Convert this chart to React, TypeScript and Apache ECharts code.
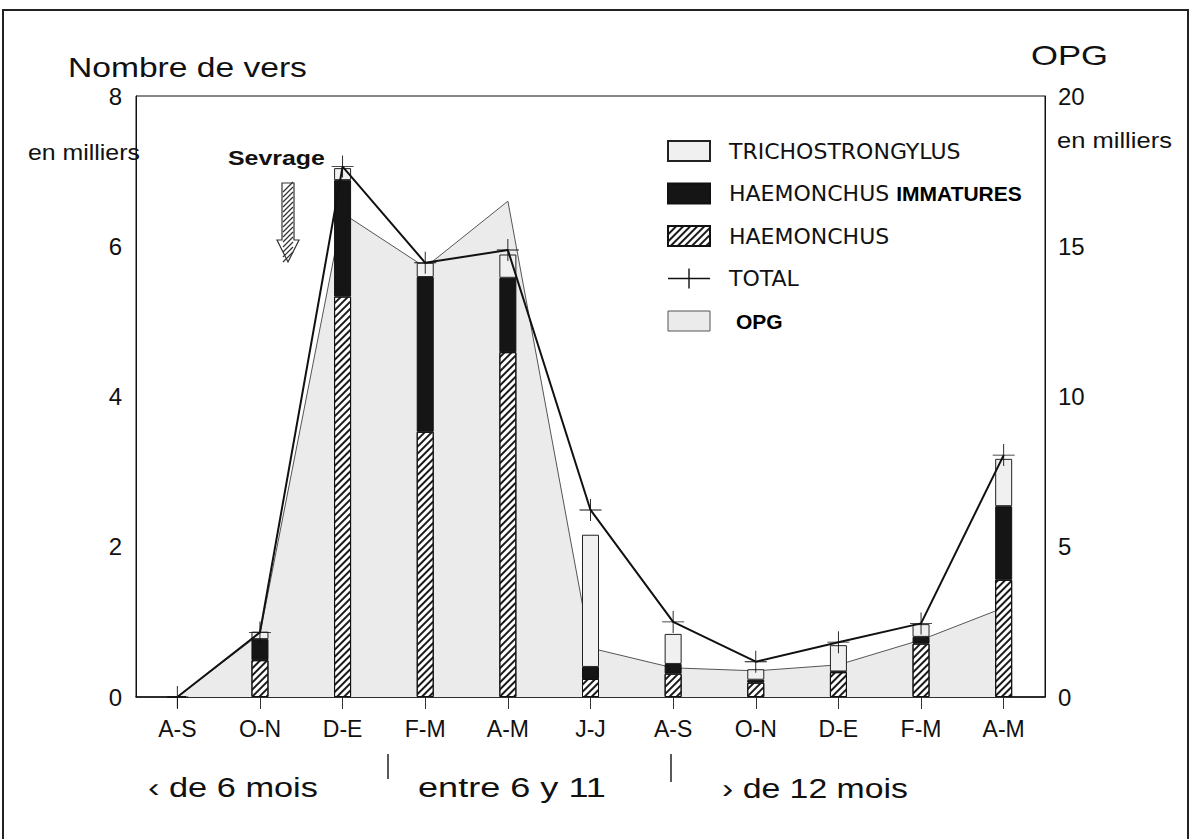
import React, { useEffect, useRef } from "react";
import * as echarts from "echarts";

const categories = ["A-S", "O-N", "D-E", "F-M", "A-M", "J-J", "A-S", "O-N", "D-E", "F-M", "A-M"];
const haemonchus = [0, 0.49, 5.33, 3.53, 4.59, 0.24, 0.31, 0.19, 0.33, 0.71, 1.56];
const haemonchusImmatures = [0, 0.28, 1.55, 2.06, 0.99, 0.16, 0.13, 0.04, 0.01, 0.09, 0.98];
const trichostrongylus = [0, 0.1, 0.16, 0.19, 0.31, 1.76, 0.4, 0.14, 0.35, 0.17, 0.63];
const total = [0, 0.86, 7.06, 5.78, 5.95, 2.49, 1.0, 0.47, 0.73, 0.98, 3.22];
const opg = [0, 2.1, 16.1, 14.3, 16.5, 1.63, 0.97, 0.87, 1.07, 1.9, 2.97];
const leftTicks = { min: 0, max: 8, interval: 2 };
const rightTicks = { min: 0, max: 20, interval: 5 };

const FONT = "'Liberation Sans', Arial, Helvetica, sans-serif";
const LFONT = "'DejaVu Sans', 'Liberation Sans', sans-serif";

const hatch = {
  symbol: "rect",
  symbolSize: 1,
  color: "#1a1a1a",
  dashArrayX: [1, 0],
  dashArrayY: [2, 3],
  rotation: -Math.PI / 4,
};

function measure(text: string, font: string): number {
  const c = document.createElement("canvas").getContext("2d");
  if (!c) return 100;
  c.font = font;
  return c.measureText(text).width || 100;
}

function stretchedText(text: string, x: number, y: number, width: number, size: number, bold = false) {
  const font = `${bold ? "bold " : ""}${size}px ${FONT}`;
  const w = measure(text, font);
  return {
    type: "text",
    x,
    y,
    scaleX: width / w,
    style: {
      text,
      font,
      fill: "#111",
      textVerticalAlign: "middle",
      textAlign: "left",
    },
  };
}

export default function App() {
  const ref = useRef<HTMLDivElement>(null);
  useEffect(() => {
    document.body.style.margin = "0";
    if (!ref.current) return;
    const chart = echarts.init(ref.current, null, { renderer: "svg" });

    const hatchLines: any[] = [];
    for (let yy = 186; yy < 258; yy += 5) {
      hatchLines.push({
        type: "line",
        shape: { x1: 283, y1: yy + 6, x2: 293, y2: yy - 4 },
        style: { stroke: "#333", lineWidth: 1.2 },
        z: 101,
      });
    }

    const option: any = {
      animation: false,
      backgroundColor: "#fff",
      grid: {
        left: 136,
        right: 147,
        top: 96,
        bottom: 142,
        show: true,
        borderColor: "#111",
        borderWidth: 1,
      },
      legend: {
        left: 667,
        top: 140,
        padding: 0,
        orient: "vertical",
        itemWidth: 42,
        itemHeight: 20,
        itemGap: 20.5,
        selectedMode: false,
        data: [
          { name: "TRICHOSTRONGYLUS", icon: "rect" },
          { name: "HAEMONCHUS IMMATURES", icon: "rect" },
          { name: "HAEMONCHUS", icon: "rect" },
          {
            name: "TOTAL",
            icon: "path://M0,9.3 H42 V10.7 H0 Z M20.3,0 H21.7 V20 H20.3 Z",
            itemStyle: { color: "#111", borderWidth: 0 },
          },
          {
            name: "OPG",
            icon: "rect",
            itemStyle: { color: "#ebebeb", borderColor: "#555", borderWidth: 1 },
          },
        ],
        formatter: (name: string) => {
          if (name === "HAEMONCHUS IMMATURES") return "HAEMONCHUS {b|IMMATURES}";
          if (name === "OPG") return " {b|OPG}";
          return name;
        },
        textStyle: {
          fontFamily: LFONT,
          fontSize: 22,
          lineHeight: 20,
          color: "#111",
          padding: [0, 0, 0, 14],
          rich: {
            b: { fontFamily: FONT, fontWeight: "bold", fontSize: 21, lineHeight: 20, color: "#000" },
          },
        },
      },
      xAxis: {
        type: "category",
        data: categories,
        boundaryGap: true,
        axisLine: { show: true, lineStyle: { color: "#111", width: 1.5 } },
        axisTick: { show: true, alignWithLabel: true, length: 12, lineStyle: { color: "#333" } },
        axisLabel: { fontFamily: FONT, fontSize: 23, color: "#111", margin: 20 },
        splitLine: { show: false },
      },
      yAxis: [
        {
          type: "value",
          ...leftTicks,
          position: "left",
          axisLine: { show: true, lineStyle: { color: "#111" } },
          axisTick: { show: false },
          splitLine: { show: false },
          axisLabel: { fontFamily: FONT, fontSize: 24, color: "#111", margin: 14 },
        },
        {
          type: "value",
          ...rightTicks,
          position: "right",
          axisLine: { show: true, lineStyle: { color: "#111" } },
          axisTick: { show: false },
          splitLine: { show: false },
          axisLabel: { fontFamily: FONT, fontSize: 24, color: "#111", margin: 13 },
        },
      ],
      series: [
        {
          name: "OPG",
          type: "line",
          yAxisIndex: 1,
          data: opg,
          symbol: "none",
          lineStyle: { color: "#555", width: 1 },
          itemStyle: { color: "#ebebeb", borderColor: "#555" },
          areaStyle: { color: "#ebebeb", opacity: 1 },
          z: 1,
        },
        {
          name: "HAEMONCHUS",
          type: "bar",
          stack: "vers",
          barWidth: 17,
          data: haemonchus,
          itemStyle: { color: "#fff", borderColor: "#111", borderWidth: 1, decal: hatch },
          z: 3,
        },
        {
          name: "HAEMONCHUS IMMATURES",
          type: "bar",
          stack: "vers",
          barWidth: 17,
          data: haemonchusImmatures,
          itemStyle: { color: "#151515", borderColor: "#111", borderWidth: 1 },
          z: 3,
        },
        {
          name: "TRICHOSTRONGYLUS",
          type: "bar",
          stack: "vers",
          barWidth: 17,
          data: trichostrongylus,
          itemStyle: { color: "#f0f0f0", borderColor: "#222", borderWidth: 1 },
          z: 3,
        },
        {
          name: "TOTAL",
          type: "line",
          yAxisIndex: 0,
          data: total,
          symbol: "path://M0,19.2 H40 V20.8 H0 Z M19.2,0 H20.8 V40 H19.2 Z",
          symbolSize: 22,
          showSymbol: true,
          lineStyle: { color: "#111", width: 2 },
          itemStyle: { color: "#111", borderWidth: 0 },
          z: 5,
        },
      ],
      graphic: [
        {
          type: "rect",
          shape: { x: 3, y: 10, width: 1185, height: 900 },
          style: { fill: "none", stroke: "#222", lineWidth: 2 },
          z: 100,
        },
        stretchedText("Nombre de vers", 68, 67, 239, 28),
        stretchedText("en milliers", 28, 153, 112, 22),
        stretchedText("Sevrage", 228, 158, 97, 20, true),
        stretchedText("OPG", 1031, 55, 77, 28),
        stretchedText("en milliers", 1057, 140, 115, 22),
        {
          type: "polygon",
          shape: {
            points: [
              [282, 183],
              [294, 183],
              [294, 240],
              [299, 240],
              [288, 262],
              [277, 240],
              [282, 240],
            ],
          },
          style: { fill: "#fff", stroke: "#333", lineWidth: 1.2 },
          z: 100,
        },
        ...hatchLines,
        {
          type: "line",
          shape: { x1: 388, y1: 754, x2: 388, y2: 779 },
          style: { stroke: "#222", lineWidth: 1.5 },
        },
        {
          type: "line",
          shape: { x1: 671, y1: 754, x2: 671, y2: 782 },
          style: { stroke: "#222", lineWidth: 1.5 },
        },
        stretchedText("\u2039 de 6 mois", 148, 788, 170, 27),
        stretchedText("entre 6 y 11", 418, 788, 188, 27),
        stretchedText("\u203A de 12 mois", 722, 788, 186, 27),
      ],
    };
    chart.setOption(option);
    return () => chart.dispose();
  }, []);
  return <div ref={ref} style={{ width: 1192, height: 839 }} />;
}
